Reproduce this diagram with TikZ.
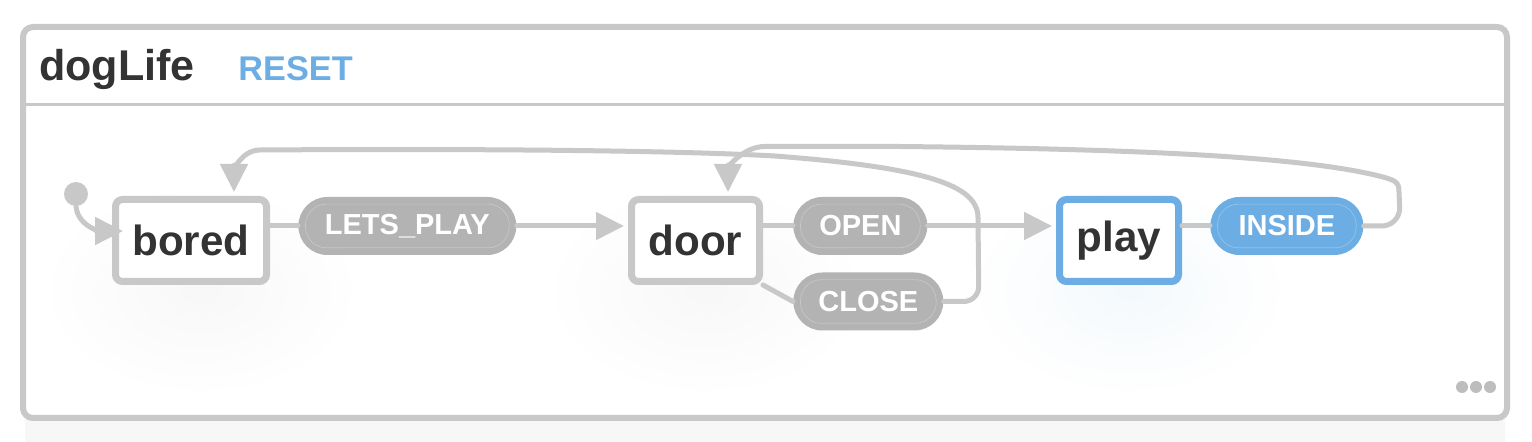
\documentclass[tikz,border=0pt]{standalone}
\usepackage{tikz}
\usetikzlibrary{arrows.meta, positioning, calc, backgrounds, fadings}
\usepackage{xcolor}
\usepackage{fontspec}
\setmainfont{Liberation Sans}
\definecolor{linegray}{HTML}{C8C8C8}
\definecolor{pillgray}{HTML}{B3B3B3}
\definecolor{activeblue}{HTML}{6CAEE4}
\definecolor{inkdark}{HTML}{333333}
\definecolor{dotgray}{HTML}{BDBDBD}
\tikzfading[name=haze, inner color=transparent!30, outer color=transparent!100]
\tikzset{
  state/.style={rectangle, rounded corners=4pt, draw=#1, fill=white, line width=0.14cm,
                inner sep=0pt, minimum height=1.64cm, text=inkdark,
                font=\fontsize{24}{26}\selectfont\bfseries},
  state/.default=linegray,
  event/.style={rectangle, rounded corners=0.58cm, fill=#1, inner sep=0pt,
                minimum height=1.16cm, text=white,
                font=\fontsize{16.5}{18}\selectfont\bfseries},
  event/.default=pillgray,
  edge/.style={draw=linegray, line width=0.1cm, line cap=round, line join=round},
  arr/.style={edge, -{Triangle[length=0.56cm, width=0.54cm]}},
  title/.style={anchor=base west, inner sep=0pt, font=\fontsize{#1}{#1}\selectfont\bfseries},
}

\begin{document}
\begin{tikzpicture}
  \useasboundingbox (0,0) rectangle (30.64,-8.84);

  % header
  \node[title=24.5, text=inkdark] (machine) at (0.78,-1.62) {dogLife};
  \node[title=19.5, text=activeblue, right=0.86cm of machine.base east, anchor=base west]
    (reset) {RESET};

  % states
  \node[state, minimum width=3.02cm] (bored) at (3.82,-4.81) {bored};
  \node[state, minimum width=2.56cm, right=7.16cm of bored] (door) {door};
  \node[state=activeblue, minimum width=2.38cm, right=5.86cm of door] (play) {play};

  % events
  \node[event, minimum width=4.36cm, right=0.56cm of bored, yshift=0.29cm] (letsplay) {LETS\_PLAY};
  \node[event, minimum width=2.68cm, right=0.6cm of door, yshift=0.29cm] (open) {OPEN};
  \node[event, minimum width=3.0cm, right=0.6cm of door, yshift=-1.22cm] (close) {CLOSE};
  \node[event=activeblue, minimum width=3.06cm, right=0.56cm of play, yshift=0.29cm] (inside) {INSIDE};
  \foreach \p in {letsplay, open, close, inside}
    \draw[white, opacity=0.25, line width=0.4pt, rounded corners=0.42cm]
      ($(\p.south west)+(0.15,0.15)$) rectangle ($(\p.north east)-(0.15,0.15)$);

  \node[circle, fill=linegray, minimum size=0.48cm, inner sep=0pt] (init) at (1.52,-3.88) {};
  \coordinate (boredin) at ($(bored.west)+(0.22,0.19)$);
  \coordinate (boredtop) at ($(bored.north)+(0.86,0.08)$);
  \coordinate (doortop) at ($(door.north)+(0.65,0.08)$);

  % transitions
  \draw[arr] (init.south) to[out=-85, in=180] (boredin);
  \draw[edge] (letsplay.west -| bored.east) -- (letsplay.west);
  \draw[arr, shorten >=0.08cm] (letsplay.east) -- (letsplay.east -| door.west);
  \draw[edge] (open.west -| door.east) -- (open.west);
  \draw[arr, shorten >=0.08cm] (open.east) -- (open.east -| play.west);
  \draw[edge] (door.south east) -- (close.west);
  \draw[arr] (close.east) -- ++(0.4,0) to[out=0, in=-90] ++(0.3,0.3) -- (19.56,-4.35)
    .. controls (19.56,-3.7) and (18.5,-3.35) .. (15.5,-3.12)
    .. controls (13,-2.98) and (8,-2.98) .. (5.2,-3.0)
    to[out=180, in=90] (boredtop);
  \draw[edge] (inside.west -| play.east) -- (inside.west);
  \draw[arr] (inside.east) -- ++(0.36,0) to[out=0, in=-90] ++(0.36,0.36) -- (27.98,-3.84)
    .. controls (27.98,-3.62) and (27.9,-3.6) .. (27.5,-3.5)
    .. controls (26,-3.15) and (23,-2.98) .. (18,-2.93)
    -- (15.3,-2.93) to[out=180, in=90] (doortop);

  \foreach \i in {0,1,2}
    \fill[dotgray] (29.24+0.28*\i,-7.74) circle (0.12cm);

  \begin{scope}[on background layer]
    \fill[black!3] (0.5,-1.0) rectangle (30.1,-8.84);
    \draw[linegray, fill=white, line width=0.12cm, rounded corners=0.2cm]
      (0.46,-0.54) rectangle (30.14,-8.36);
    \draw[linegray, line width=0.06cm] (0.46,-2.1) -- (30.14,-2.1);
    \fill[black!4, path fading=haze] ($(bored)+(0.2,-1.0)$) ellipse (3.0 and 2.0);
    \fill[black!4, path fading=haze] ($(door)+(0.2,-1.0)$) ellipse (3.0 and 2.0);
    \fill[activeblue!10, path fading=haze] ($(play)+(0.2,-1.0)$) ellipse (3.0 and 2.0);
  \end{scope}
\end{tikzpicture}
\end{document}
